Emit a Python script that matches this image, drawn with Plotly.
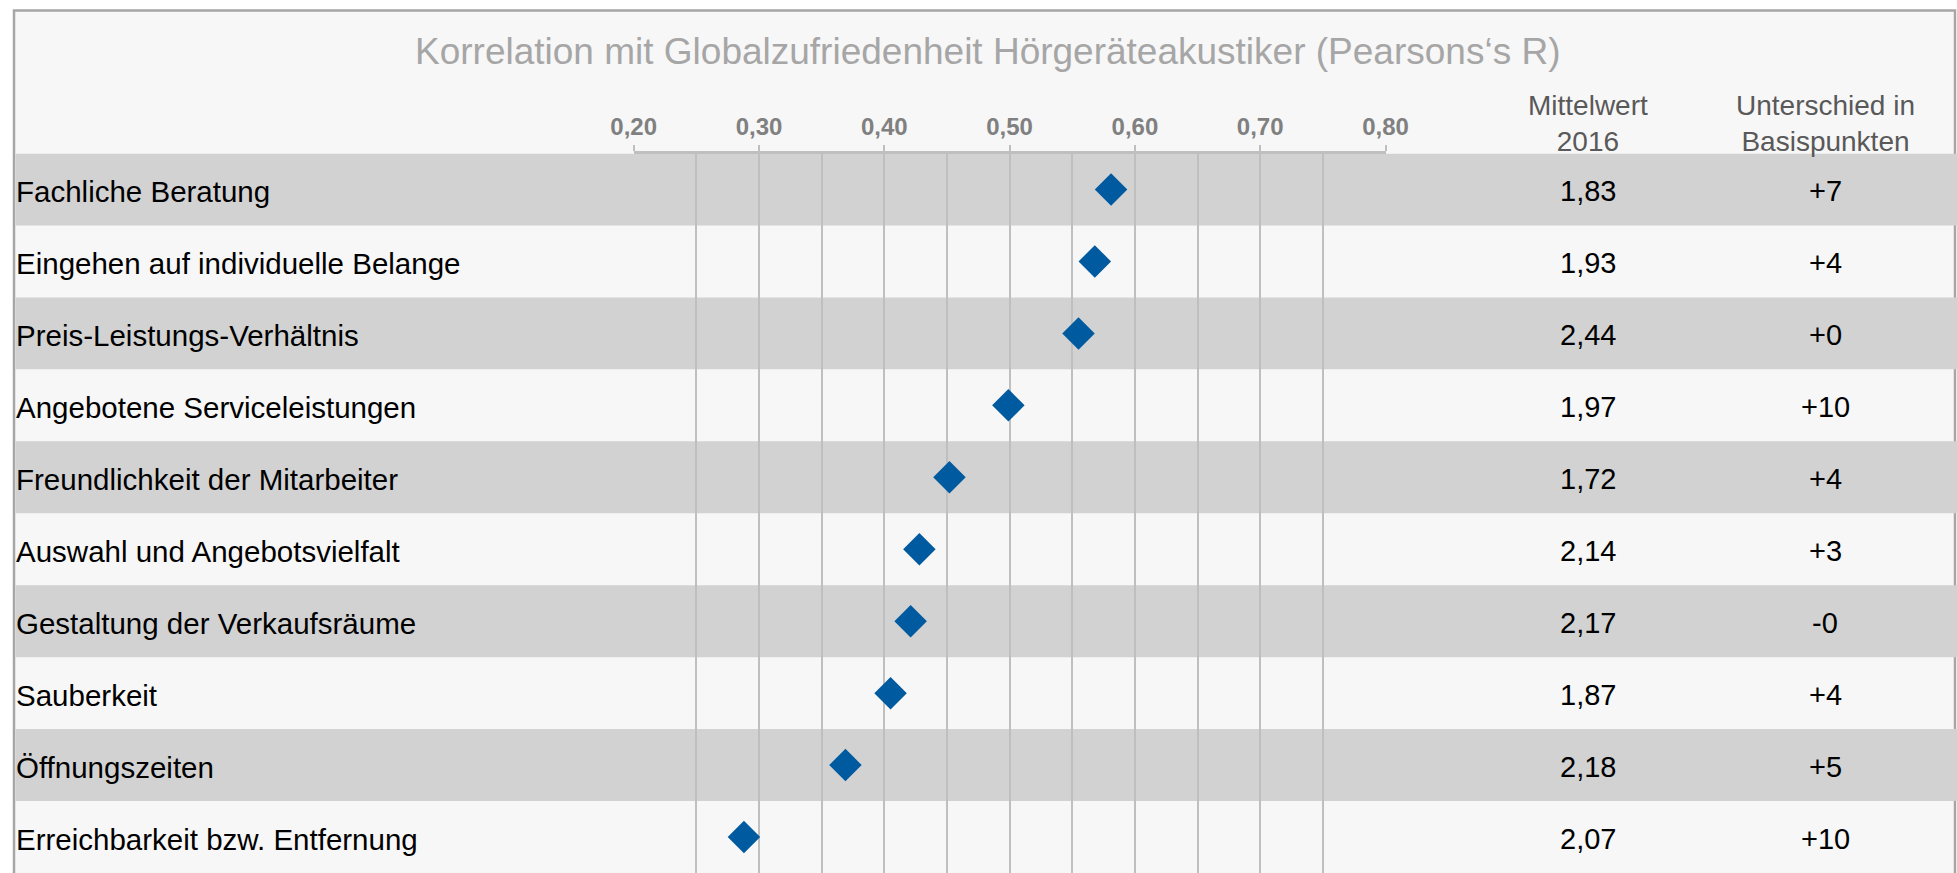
import plotly.graph_objects as go

# ---------------- data ----------------
categories = [
    "Fachliche Beratung",
    "Eingehen auf individuelle Belange",
    "Preis-Leistungs-Verhältnis",
    "Angebotene Serviceleistungen",
    "Freundlichkeit der Mitarbeiter",
    "Auswahl und Angebotsvielfalt",
    "Gestaltung der Verkaufsräume",
    "Sauberkeit",
    "Öffnungszeiten",
    "Erreichbarkeit bzw. Entfernung",
]
correlation = [0.581, 0.568, 0.555, 0.499, 0.452, 0.428, 0.421, 0.405, 0.369, 0.288]
mean_2016 = ["1,83", "1,93", "2,44", "1,97", "1,72", "2,14", "2,17", "1,87", "2,18", "2,07"]
diff_basis_points = ["+7", "+4", "+0", "+10", "+4", "+3", "-0", "+4", "+5", "+10"]
tick_values = [0.2, 0.3, 0.4, 0.5, 0.6, 0.7, 0.8]
tick_labels = ["0,20", "0,30", "0,40", "0,50", "0,60", "0,70", "0,80"]
title_text = "Korrelation mit Globalzufriedenheit Hörgeräteakustiker (Pearsons‘s R)"
header_mean = "Mittelwert<br>2016"
header_diff = "Unterschied in<br>Basispunkten"

# ---------------- layout constants ----------------
W, H = 1957, 873
FONT = "Arial, 'Liberation Sans', sans-serif"
def px(x):
    return x / W
def py(y):
    return (H - y) / H

rows = list(range(len(categories)))

fig = go.Figure()
fig.add_trace(go.Scatter(
    x=correlation, y=rows, mode="markers",
    marker=dict(symbol="diamond", size=25, color="#005AA0", line=dict(width=0)),
    hoverinfo="x+y", showlegend=False,
))

shapes = [
    dict(type="rect", xref="paper", yref="paper", x0=px(14), x1=px(1955), y0=-0.02, y1=py(10.5),
         fillcolor="#F7F7F7", line=dict(color="#A6A6A6", width=2.5), layer="below"),
]
for i in rows:
    if i % 2 == 0:
        shapes.append(dict(type="rect", xref="paper", yref="y", x0=px(15.5), x1=1.0,
                           y0=i - 0.5, y1=i + 0.5, fillcolor="#D2D2D2",
                           line=dict(width=0), layer="below"))

annotations = [
    dict(text=title_text, xref="paper", yref="paper", x=px(987), y=py(51), showarrow=False,
         xanchor="center", yanchor="middle", font=dict(family=FONT, size=37, color="#A6A6A6")),
    dict(text=header_mean, xref="paper", yref="paper", x=px(1588), y=py(123), showarrow=False,
         xanchor="center", yanchor="middle", font=dict(family=FONT, size=28, color="#595959")),
    dict(text=header_diff, xref="paper", yref="paper", x=px(1825), y=py(123), showarrow=False,
         xanchor="center", yanchor="middle", font=dict(family=FONT, size=28, color="#595959")),
]
for i, (cat, m, d) in enumerate(zip(categories, mean_2016, diff_basis_points)):
    annotations.append(dict(text=cat, xref="paper", yref="y", x=px(14), y=i, yshift=-2,
                            showarrow=False, xanchor="left", yanchor="middle",
                            font=dict(family=FONT, size=29.5, color="#000000")))
    annotations.append(dict(text=m, xref="paper", yref="y", x=px(1588), y=i, yshift=-2,
                            showarrow=False, xanchor="center", yanchor="middle",
                            font=dict(family=FONT, size=29, color="#000000")))
    annotations.append(dict(text=d, xref="paper", yref="y", x=px(1825), y=i, yshift=-2,
                            showarrow=False, xanchor="center", yanchor="middle",
                            font=dict(family=FONT, size=29, color="#000000")))

fig.update_layout(
    template="none",
    width=W, height=H, autosize=False,
    margin=dict(l=0, r=0, t=0, b=0, pad=0, autoexpand=False),
    paper_bgcolor="#FFFFFF",
    plot_bgcolor="rgba(0,0,0,0)",
    shapes=shapes,
    annotations=annotations,
    showlegend=False,
    xaxis=dict(
        domain=[px(633.7), px(1385.5)], range=[0.2, 0.8], side="top", automargin=False,
        tickvals=tick_values, ticktext=tick_labels,
        tickfont=dict(family=FONT, size=24, color="#808080", weight="bold"),
        showline=True, linecolor="#BFBFBF", linewidth=3,
        ticks="outside", ticklen=6, tickwidth=2, tickcolor="#BFBFBF",
        showgrid=True, gridcolor="#BFBFBF", gridwidth=2,
        minor=dict(dtick=0.05, tick0=0.2, showgrid=True, gridcolor="#BFBFBF", gridwidth=2, ticks=""),
        zeroline=False, fixedrange=True,
    ),
    yaxis=dict(
        domain=[0, py(153.5)], range=[9.5, -0.5], automargin=False,
        showgrid=False, zeroline=False, showticklabels=False, showline=False, ticks="",
        fixedrange=True,
    ),
)

fig.write_html(
    "out.html",
    config={"displayModeBar": False, "responsive": False},
    post_script="document.body.style.margin='0';document.body.style.overflow='hidden';",
)
